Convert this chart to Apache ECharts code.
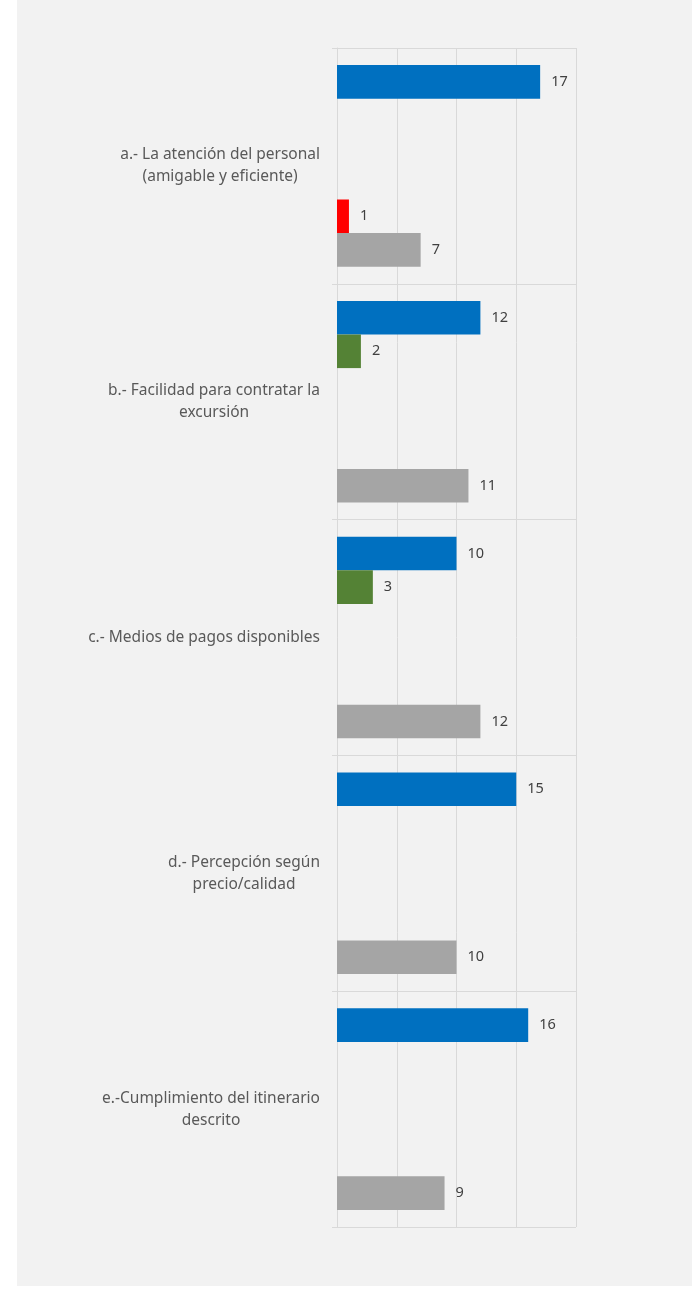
<!DOCTYPE html>
<html>
<head>
<meta charset="utf-8">
<script src="https://cdn.jsdelivr.net/npm/echarts@6/dist/echarts.min.js"></script>
<style>
  html, body { margin: 0; padding: 0; background: #ffffff; }
  #bg { position: absolute; left: 17px; top: 0; width: 675px; height: 1286px; background: #f2f2f2; }
  #chart { position: absolute; left: 0; top: 0; width: 692px; height: 1289px; }
</style>
</head>
<body>
<div id="bg"></div>
<div id="chart"></div>
<script>
const categories = [
  'a.- La atención del personal\n(amigable y eficiente)',
  'b.- Facilidad para contratar la\nexcursión',
  'c.- Medios de pagos disponibles',
  'd.- Percepción según\nprecio/calidad',
  'e.-Cumplimiento del itinerario\ndescrito'
];
const seriesNames = ['Serie 1', 'Serie 2', 'Serie 3', 'Serie 4', 'Serie 5', 'Serie 6'];
const seriesColors = ['#0070C0', '#548235', '#FFC000', '#ED7D31', '#FF0000', '#A5A5A5'];
const serie1 = [17, 12, 10, 15, 16];
const serie2 = [null, 2, 3, null, null];
const serie3 = [null, null, null, null, null];
const serie4 = [null, null, null, null, null];
const serie5 = [1, null, null, null, null];
const serie6 = [7, 11, 12, 10, 9];
const seriesValues = [serie1, serie2, serie3, serie4, serie5, serie6];
const xTicks = [0, 5, 10, 15, 20];

const chart = echarts.init(document.getElementById('chart'), null, { renderer: 'canvas' });
const FONT = 'Noto Sans';
chart.setOption({
  backgroundColor: 'transparent',
  animation: false,
  grid: { left: 337, right: 116, top: 48, bottom: 62, containLabel: false },
  xAxis: {
    type: 'value',
    min: xTicks[0],
    max: xTicks[xTicks.length - 1],
    interval: xTicks[1] - xTicks[0],
    axisLabel: { show: false },
    axisLine: { show: false },
    axisTick: { show: false },
    splitLine: { show: true, lineStyle: { color: '#d9d9d9', width: 1 } }
  },
  yAxis: {
    type: 'category',
    inverse: true,
    data: categories,
    axisLine: { show: true, lineStyle: { color: '#d9d9d9', width: 1 } },
    axisTick: { show: true, length: 5, lineStyle: { color: '#d9d9d9' } },
    splitLine: { show: true, lineStyle: { color: '#d9d9d9', width: 1 } },
    axisLabel: {
      margin: 17,
      align: 'right',
      formatter: function (v) {
        return v.split('\n').map(function (l) { return '{c|' + l + '}'; }).join('\n');
      },
      rich: {
        c: { align: 'center', color: '#595959', fontFamily: FONT, fontSize: 15.5, lineHeight: 22 }
      }
    }
  },
  series: seriesValues.map(function (vals, i) {
    return {
      name: seriesNames[i],
      type: 'bar',
      data: vals,
      barGap: '0%',
      barCategoryGap: '14.5%',
      itemStyle: { color: seriesColors[i] },
      label: {
        show: true,
        position: 'right',
        distance: 11,
        color: '#404040',
        fontFamily: FONT,
        fontSize: 14.5
      }
    };
  })
});
</script>
</body>
</html>
